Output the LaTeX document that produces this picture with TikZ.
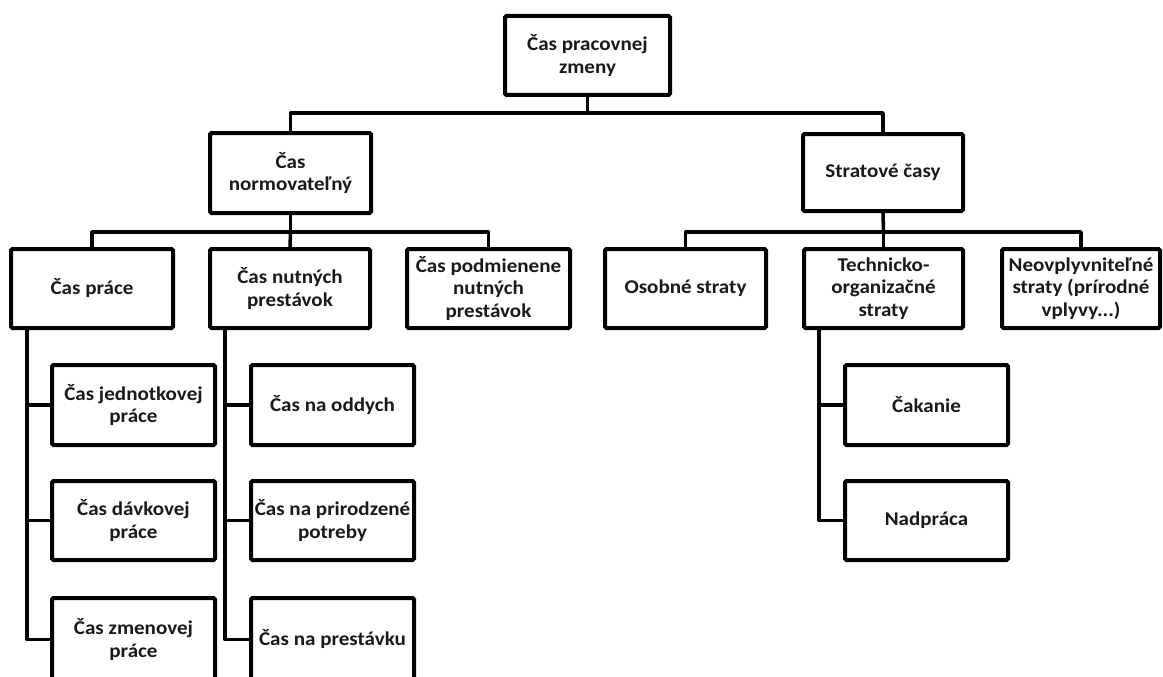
\documentclass[tikz,border=0pt]{standalone}
\usepackage{fontspec}
\setmainfont{Carlito}[FakeStretch=1.08]
\begin{document}
\begin{tikzpicture}[x=1pt,y=-1pt,
  box/.style={draw=black, line width=4pt, rounded corners=1.5pt, fill=white,
    align=center, inner sep=0pt, text=black!90,
    font=\bfseries\fontsize{19.5}{22.5}\selectfont},
  link/.style={draw=black, line width=3.5pt, line join=round}]
\path[use as bounding box] (0,0) rectangle (1163,677);
\clip (0,0) rectangle (1163,677);

% root
\node[box, minimum width=165pt, minimum height=79pt] (top) at (587.5,55.5) {Čas pracovnej\\zmeny};

% second level
\node[box, minimum width=161pt, minimum height=80pt] (norm) at (290.5,173) {Čas\\normovateľný};
\node[box, minimum width=160pt, minimum height=77pt] (strat) at (883,172.5) {Stratové časy};

% third level
\node[box, minimum width=162pt, minimum height=79pt] (prace) at (92,288.5) {Čas práce};
\node[box, minimum width=160pt, minimum height=79pt] (nutn) at (290,288.5) {Čas nutných\\prestávok};
\node[box, minimum width=163pt, minimum height=79pt] (podm) at (488.5,288.5) {Čas podmienene\\nutných\\prestávok};
\node[box, minimum width=161pt, minimum height=79pt] (osob) at (685.5,288.5) {Osobné straty};
\node[box, minimum width=159pt, minimum height=79pt] (tech) at (883.5,288.5) {Technicko-\\organizačné\\straty};
\node[box, minimum width=158pt, minimum height=79pt] (neo) at (1081,288.5) {Neovplyvniteľné\\straty (prírodné\\vplyvy...)};

% fourth level, work time
\node[box, minimum width=163pt, minimum height=80pt] (p1) at (133.5,405) {Čas jednotkovej\\práce};
\node[box, minimum width=163pt, minimum height=79pt] (p2) at (133.5,520.5) {Čas dávkovej\\práce};
\node[box, minimum width=163pt, minimum height=83pt] (p3) at (133.5,639.5) {Čas zmenovej\\práce};

% fourth level, necessary breaks
\node[box, minimum width=163pt, minimum height=80pt] (n1) at (332.5,405) {Čas na oddych};
\node[box, minimum width=163pt, minimum height=79pt] (n2) at (332.5,520.5) {Čas na prirodzené\\potreby};
\node[box, minimum width=163pt, minimum height=83pt] (n3) at (332.5,639.5) {Čas na prestávku};

% fourth level, technical-organisational losses
\node[box, minimum width=163pt, minimum height=80pt] (t1) at (926.5,405) {Čakanie};
\node[box, minimum width=163pt, minimum height=79pt] (t2) at (926.5,520.5) {Nadpráca};

% connectors
\coordinate (b1) at (587.5,113);
\coordinate (b2) at (290.5,232);
\coordinate (b3) at (883.5,232);
\draw[link] (top.south) -- (b1);
\draw[link] (norm.north) |- (b1) -| (strat.north);
\draw[link] (norm.south) -- (b2);
\draw[link] (prace.north) |- (b2) -| (podm.north);
\draw[link] (b2) -- (nutn.north);
\draw[link] (strat.south) -- (b3);
\draw[link] (osob.north) |- (b3) -| (neo.north);
\draw[link] (b3) -- (tech.north);

\coordinate (pa) at ([xshift=18pt]prace.south west);
\coordinate (na) at ([xshift=17pt]nutn.south west);
\coordinate (ta) at ([xshift=17pt]tech.south west);
\draw[link] (pa) |- (p3.west);
\draw[link] (pa |- p1.west) -- (p1.west);
\draw[link] (pa |- p2.west) -- (p2.west);
\draw[link] (na) |- (n3.west);
\draw[link] (na |- n1.west) -- (n1.west);
\draw[link] (na |- n2.west) -- (n2.west);
\draw[link] (ta) |- (t2.west);
\draw[link] (ta |- t1.west) -- (t1.west);
\end{tikzpicture}
\end{document}
